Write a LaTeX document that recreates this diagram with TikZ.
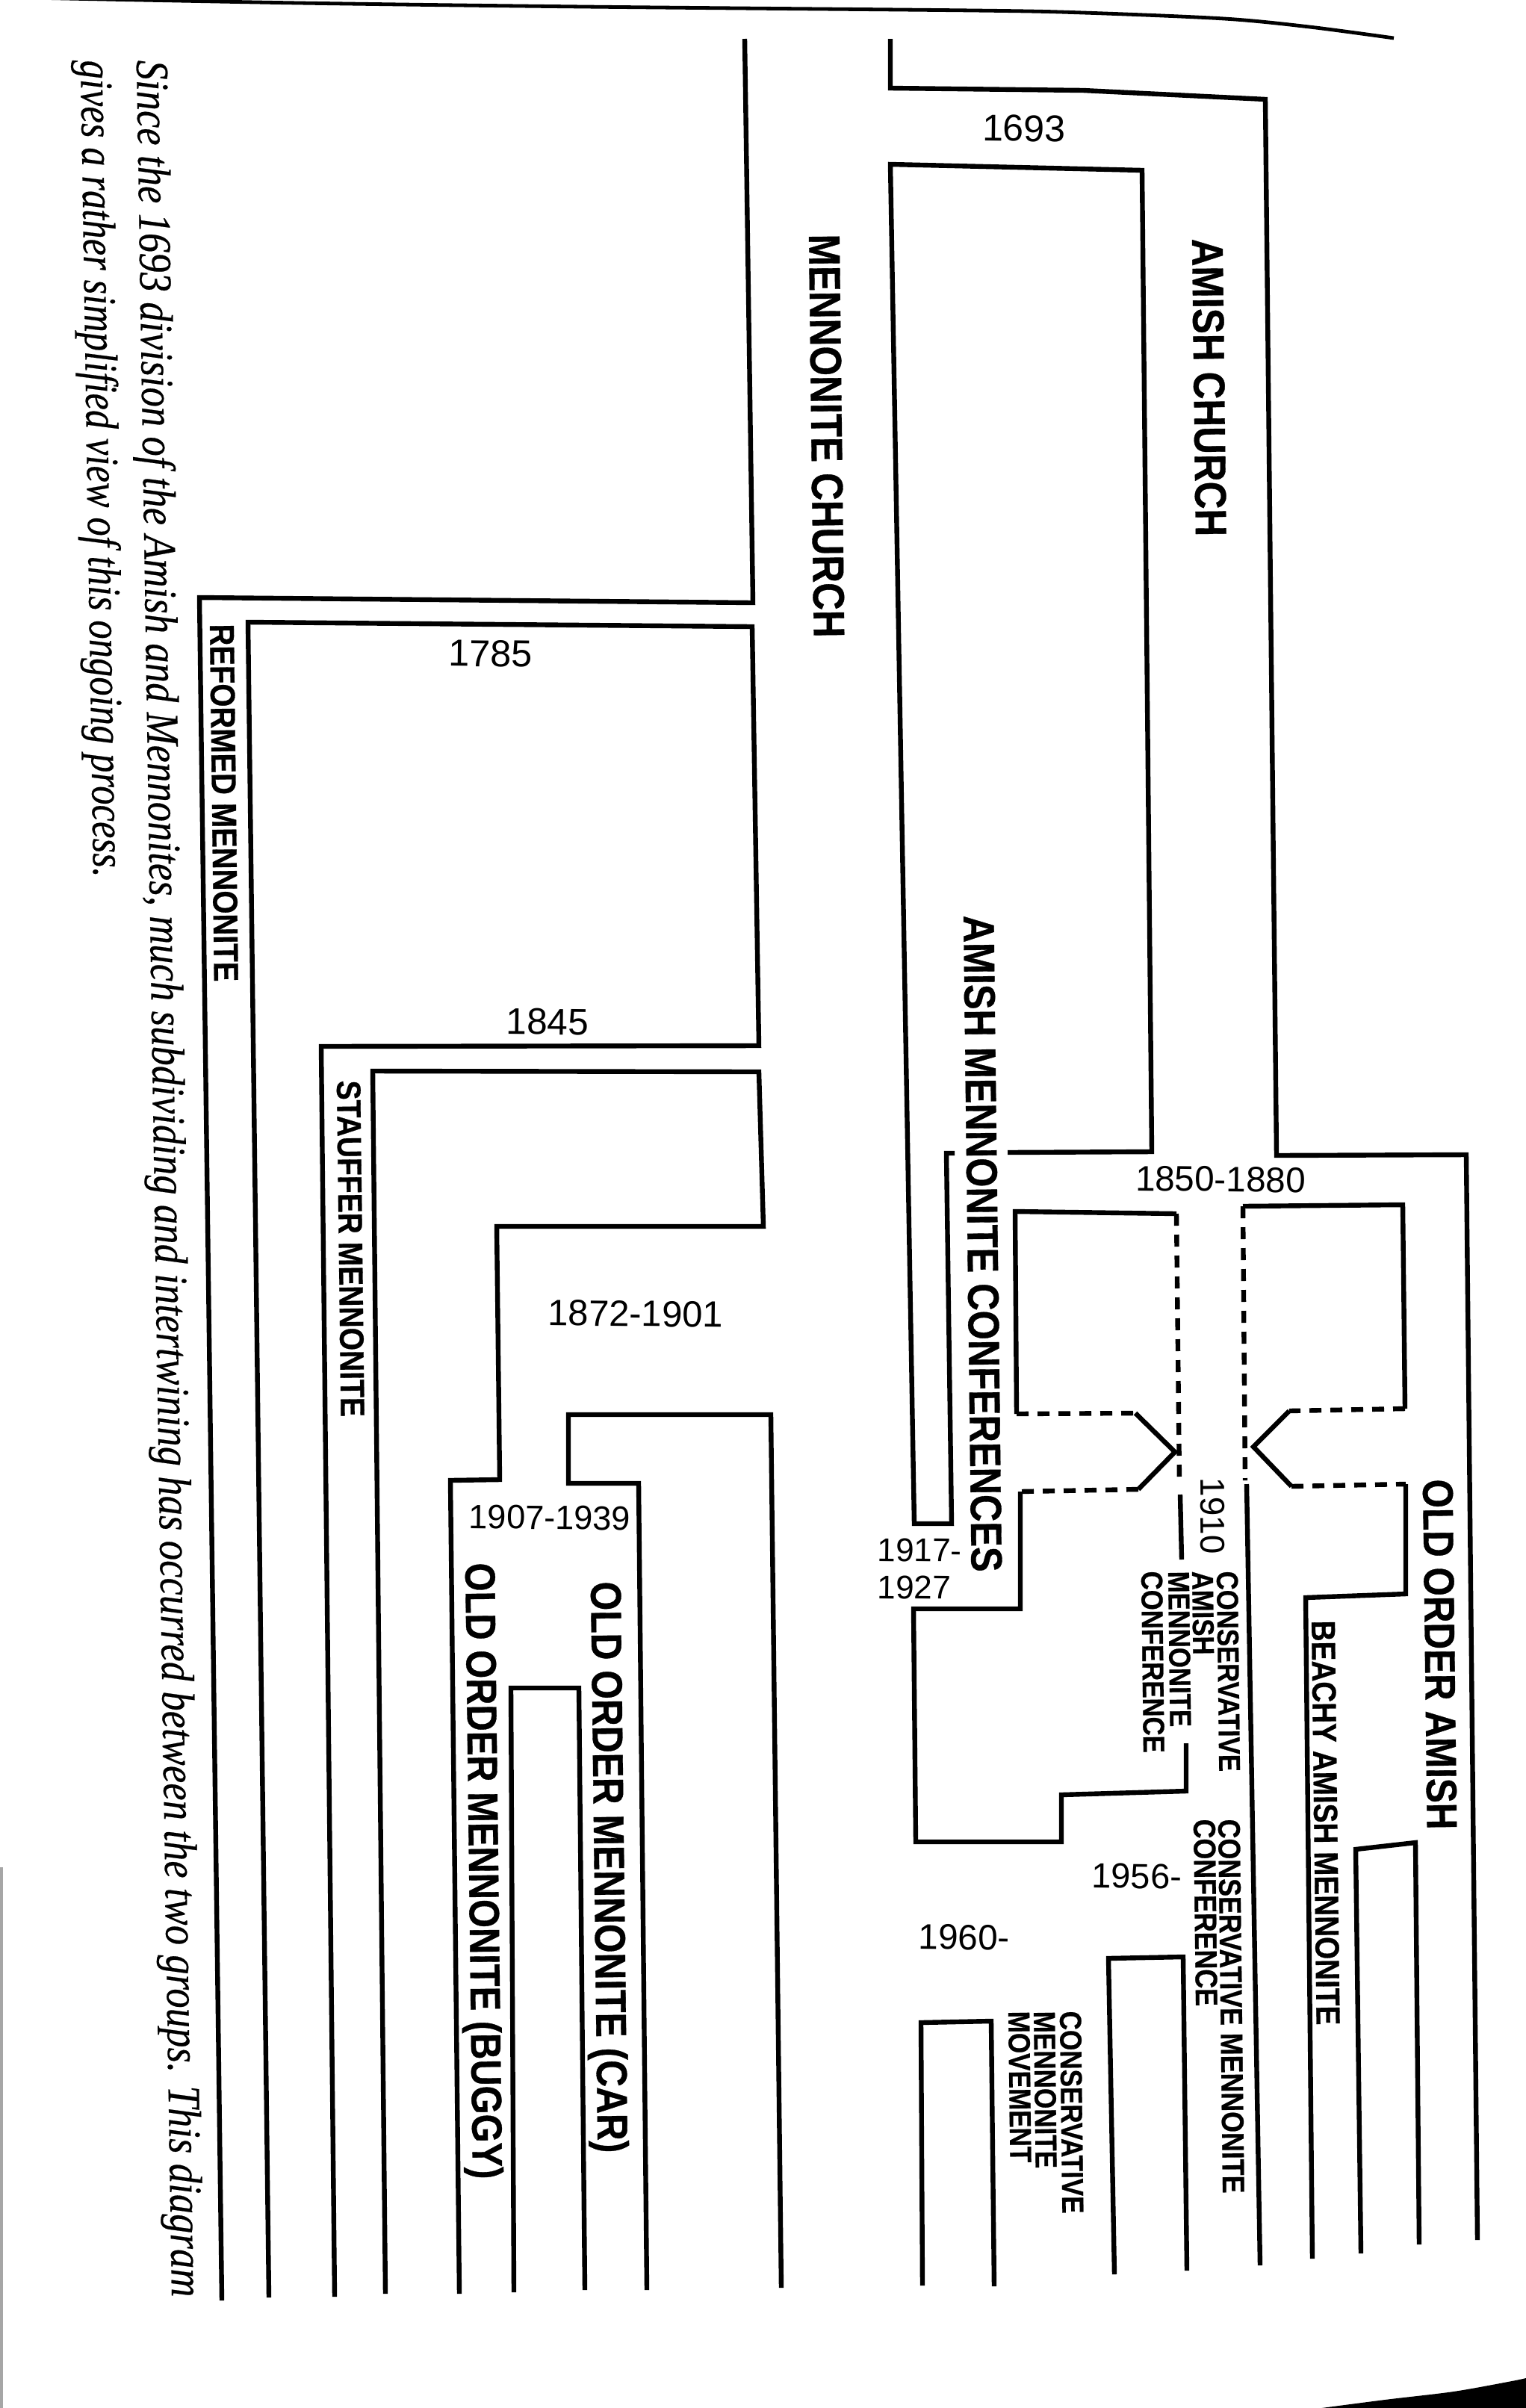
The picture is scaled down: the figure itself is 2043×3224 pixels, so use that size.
\documentclass[tikz,border=0pt]{standalone}
\usepackage{graphicx}
\usepackage{fontspec}
\newfontfamily\lblfont[FakeStretch=0.86,FakeBold=0.6]{Liberation Sans}
\newfontfamily\datefont{Liberation Sans}
\newfontfamily\capfont[FakeBold=0.4]{Liberation Serif}
\newcommand\lblsz[1]{\lblfont\bfseries\fontsize{#1}{#1}\selectfont}
\newcommand\datesz[1]{\datefont\fontsize{#1}{#1}\selectfont}
\begin{document}
\begin{tikzpicture}[x=0.25pt,y=-0.25pt,
  wall/.style={line width=1.6pt, line join=miter},
  dsh/.style={line width=1.6pt, dash pattern=on 4pt off 3pt},
  lbl/.style={inner sep=0pt, anchor=base west, rotate=-89.3},
  dt/.style={inner sep=0pt, rotate=-0.7},
  capt/.style={inner sep=0pt, anchor=base west, rotate=-89.1, font=\capfont\itshape\fontsize{15.5}{15.5}\selectfont}]
\fill[white] (0,0) rectangle (2043,3224);
\useasboundingbox (0,0) rectangle (2043,3224);

% page edges
\draw[line width=1.2pt] plot[smooth] coordinates {(40,-3) (400,4) (782,9) (1303,14) (1450,17) (1639,25) (1753,36) (1866,51)};
\fill[black] plot[smooth] coordinates {(1739,3228) (1854,3213) (1946,3202) (2024,3188) (2047,3183)} -- (2047,3228) -- cycle;
\draw[gray!70, line width=1pt] (2,2500) -- (2,3224);

% Mennonite / Reformed
\draw[wall] (997,52) -- (1008,807) -- (267,800) -- (297,3080);
\draw[wall] (360,3076) -- (332,833) -- (1007,839) -- (1016,1400) -- (430,1401) -- (448,3075);
% Amish outer
\draw[wall] (1192,52) -- (1192,118) -- (1450,121) -- (1694,133) -- (1709,1547) -- (1963,1546) -- (1978,2999);
% Amish / Mennonite land with tail
\draw[wall] (1349,1543) -- (1542,1542) -- (1529,228) -- (1192,220) -- (1224,2040) -- (1274,2040) -- (1267,1544) -- (1278,1544);
% Stauffer right / Old Order split
\draw[wall] (516,3071) -- (499,1434) -- (1016,1435) -- (1022,1642) -- (665,1642) -- (669,1981) -- (603,1982) -- (615,3071);
\draw[wall] (866,3066) -- (855,1986) -- (761,1986) -- (761,1894) -- (1032,1894) -- (1046,3063);
\draw[wall] (688,3069) -- (684,2260) -- (775,2260) -- (783,3066);

% left chevron block
\draw[wall] (1575,1625) -- (1359,1622) -- (1361,1893);
\draw[dsh] (1361,1893) -- (1520,1892);
\draw[wall] (1520,1892) -- (1573,1944) -- (1524,1994);
\draw[dsh] (1524,1994) -- (1366,1997);
\draw[wall] (1366,1997) -- (1366,2154) -- (1223,2154) -- (1226,2466) -- (1421,2466) -- (1421,2403) -- (1588,2398) -- (1588,2334);
\draw[dsh] (1575,1625) -- (1579,1985);
\draw[wall] (1580,2001) -- (1582,2088);

% right chevron block
\draw[wall] (1664,1615) -- (1878,1613) -- (1881,1886);
\draw[dsh] (1881,1886) -- (1726,1889);
\draw[wall] (1726,1889) -- (1678,1937) -- (1729,1990);
\draw[dsh] (1729,1990) -- (1882,1987);
\draw[wall] (1882,1987) -- (1882,2134) -- (1748,2139) -- (1757,3024);
\draw[dsh] (1664,1615) -- (1667,1982);
\draw[wall] (1669,1987) -- (1687,3033);

% late boxes
\draw[wall] (1822,3017) -- (1815,2476) -- (1895,2467) -- (1900,3005);
\draw[wall] (1235,3060) -- (1233,2708) -- (1327,2706) -- (1331,3061);
\draw[wall] (1492,3045) -- (1484,2622) -- (1584,2620) -- (1589,3040);

% titles
\node[lbl, font=\lblsz{14.8}] (amishchurch) at (1596,319) {AMISH CHURCH};
\node[lbl, font=\lblsz{14.8}] (mennchurch) at (1083,313) {MENNONITE CHURCH};
\node[lbl, font=\lblsz{11.6}] (reformed) at (281,835) {REFORMED MENNONITE};
\node[lbl, font=\lblsz{11.35}] (stauffer) at (451,1446) {STAUFFER MENNONITE};
\node[lbl, font=\lblsz{14.65}] (amc) at (1290,1225) {AMISH MENNONITE CONFERENCES};
\node[lbl, font=\lblsz{14.45}] (oomcar) at (791,2117) {OLD ORDER MENNONITE (CAR)};
\node[lbl, font=\lblsz{14.2}] (oombuggy) at (623,2092) {OLD ORDER MENNONITE (BUGGY)};
\node[lbl, font=\lblsz{14.35}] (ooa) at (1905,1980) {OLD ORDER AMISH};
\node[lbl, font=\lblsz{11.25}] (beachy) at (1756,2169) {BEACHY AMISH MENNONITE};
\node[lbl, font=\lblsz{10.4}] (cmca) at (1631,2435) {CONSERVATIVE MENNONITE};
\node[lbl, font=\lblsz{10.4}] (cmcb) at (1598,2435) {CONFERENCE};
\node[lbl, font=\lblsz{10.1}] (camca) at (1629,2103) {CONSERVATIVE};
\node[lbl, font=\lblsz{10.1}] (camcb) at (1596,2103) {AMISH};
\node[lbl, font=\lblsz{10.1}] (camcc) at (1564,2103) {MENNONITE};
\node[lbl, font=\lblsz{10.1}] (camcd) at (1528,2103) {CONFERENCE};
\node[lbl, font=\lblsz{10.2}] (cmma) at (1419,2692) {CONSERVATIVE};
\node[lbl, font=\lblsz{10.2}] (cmmb) at (1384,2692) {MENNONITE};
\node[lbl, font=\lblsz{10.2}] (cmmc) at (1350,2692) {MOVEMENT};

% dates
\node[dt, font=\datesz{12.5}] (d1693) at (1371,172) {1693};
\node[dt, font=\datesz{12.6}] (d1785) at (657,875) {1785};
\node[dt, font=\datesz{12.4}] (d1845) at (733,1368) {1845};
\node[dt, font=\datesz{12.25}] (d1872) at (851,1759) {1872-1901};
\node[dt, font=\datesz{11.3}] (d1907) at (736,2032) {1907-1939};
\node[dt, font=\datesz{11.9}] (d1850) at (1634,1579) {1850-1880};
\node[dt, font=\datesz{11.75}] (d1956) at (1522,2512) {1956-};
\node[dt, font=\datesz{11.9}] (d1960) at (1291,2594) {1960-};
\node[dt, anchor=base west, font=\datesz{11}] (d1917) at (1174,2090) {1917-};
\node[dt, anchor=base west, font=\datesz{11}] (d1927) at (1174,2140) {1927};
\node[lbl, font=\datesz{11.5}] (d1910) at (1607,1978) {1910};

% caption
\node[capt] (cap1) at (183,80) {\resizebox{748.75pt}{\height}{Since the 1693 division of the Amish and Mennonites, much subdividing and intertwining has occurred between the two groups. This diagram}};
\node[capt] (cap2) at (108,80) {\resizebox{273.5pt}{\height}{gives a rather simplified view of this ongoing process.}};
\end{tikzpicture}
\end{document}
